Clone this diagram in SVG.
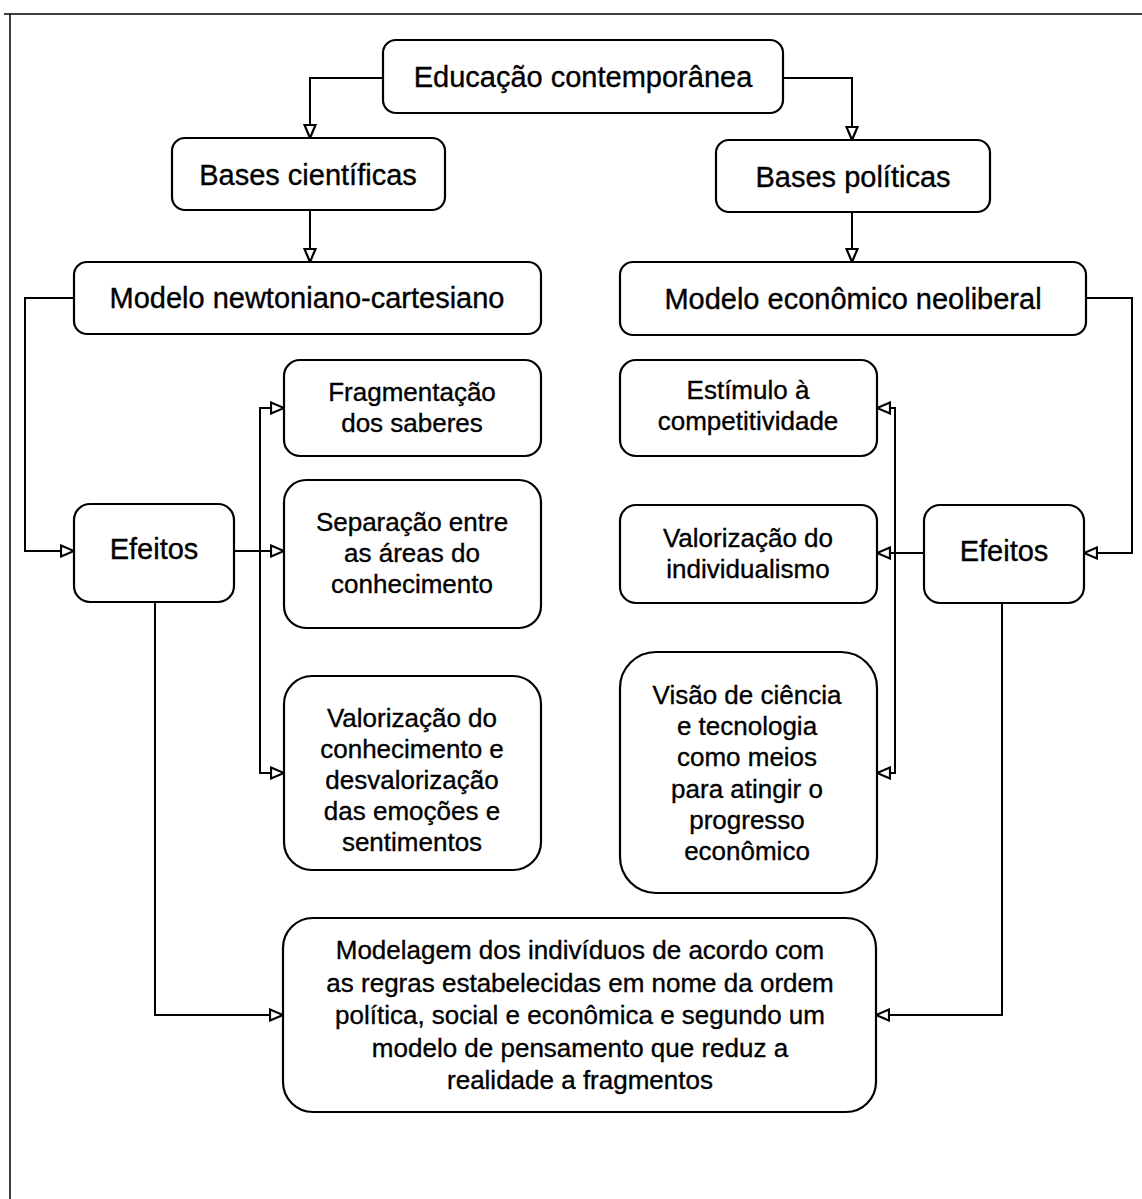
<svg xmlns="http://www.w3.org/2000/svg" width="1142" height="1199" viewBox="0 0 1142 1199">
<style>
.box{fill:#fff;stroke:#000;stroke-width:2.2}
.c{fill:none;stroke:#000;stroke-width:2}
.frame{fill:none;stroke:#000;stroke-width:1.5}
text{font-family:"Liberation Sans",Arial,sans-serif;fill:#000;text-anchor:middle;stroke:#000;stroke-width:0.35}
.l{font-size:29px}
.s{font-size:26px}
</style>
<defs>
<marker id="ah" markerUnits="userSpaceOnUse" markerWidth="16" markerHeight="14" refX="14" refY="7" orient="auto">
<path d="M1,1.5 L14,7 L1,12.5 Z" fill="#fff" stroke="#000" stroke-width="2.2"/>
</marker>
</defs>
<rect width="1142" height="1199" fill="#fff"/>
<path class="frame" d="M4,14 H1142 M10,14 V1199"/>
<g id="connectors">
<path class="c" d="M383,78 H310 V138" marker-end="url(#ah)"/>
<path class="c" d="M783,78 H852 V140" marker-end="url(#ah)"/>
<path class="c" d="M310,210 V262" marker-end="url(#ah)"/>
<path class="c" d="M852,212 V262" marker-end="url(#ah)"/>
<path class="c" d="M74,298 H25 V551 H74" marker-end="url(#ah)"/>
<path class="c" d="M1086,298 H1132 V553 H1084" marker-end="url(#ah)"/>
<path class="c" d="M234,551 H284" marker-end="url(#ah)"/>
<path class="c" d="M260,551 V408 H284" marker-end="url(#ah)"/>
<path class="c" d="M260,551 V773 H284" marker-end="url(#ah)"/>
<path class="c" d="M924,553 H877" marker-end="url(#ah)"/>
<path class="c" d="M895,553 V408 H877" marker-end="url(#ah)"/>
<path class="c" d="M895,553 V773 H877" marker-end="url(#ah)"/>
<path class="c" d="M155,602 V1015 H283" marker-end="url(#ah)"/>
<path class="c" d="M1002,603 V1015 H876" marker-end="url(#ah)"/>
</g>
<g id="n-educacao">
<rect class="box" x="383" y="40" width="400" height="73" rx="13"/>
<text class="l" x="583" y="87">Educação contemporânea</text>
</g>
<g id="n-bases-cientificas">
<rect class="box" x="172" y="138" width="273" height="72" rx="13"/>
<text class="l" x="308" y="185">Bases científicas</text>
</g>
<g id="n-bases-politicas">
<rect class="box" x="716" y="140" width="274" height="72" rx="13"/>
<text class="l" x="853" y="187">Bases políticas</text>
</g>
<g id="n-modelo-newtoniano">
<rect class="box" x="74" y="262" width="467" height="72" rx="13"/>
<text class="l" x="307" y="308">Modelo newtoniano-cartesiano</text>
</g>
<g id="n-modelo-economico">
<rect class="box" x="620" y="262" width="466" height="73" rx="13"/>
<text class="l" x="853" y="309">Modelo econômico neoliberal</text>
</g>
<g id="n-fragmentacao">
<rect class="box" x="284" y="360" width="257" height="96" rx="16"/>
<text class="s" x="412" y="401">Fragmentação</text>
<text class="s" x="412" y="432">dos saberes</text>
</g>
<g id="n-separacao">
<rect class="box" x="284" y="480" width="257" height="148" rx="22"/>
<text class="s" x="412" y="531">Separação entre</text>
<text class="s" x="412" y="562">as áreas do</text>
<text class="s" x="412" y="593">conhecimento</text>
</g>
<g id="n-efeitos-esq">
<rect class="box" x="74" y="504" width="160" height="98" rx="16"/>
<text class="l" x="154" y="559">Efeitos</text>
</g>
<g id="n-valorizacao-conhecimento">
<rect class="box" x="284" y="676" width="257" height="194" rx="28"/>
<text class="s" x="412" y="727">Valorização do</text>
<text class="s" x="412" y="758">conhecimento e</text>
<text class="s" x="412" y="789">desvalorização</text>
<text class="s" x="412" y="820">das emoções e</text>
<text class="s" x="412" y="851">sentimentos</text>
</g>
<g id="n-estimulo">
<rect class="box" x="620" y="360" width="257" height="96" rx="16"/>
<text class="s" x="748" y="399">Estímulo à</text>
<text class="s" x="748" y="430">competitividade</text>
</g>
<g id="n-individualismo">
<rect class="box" x="620" y="505" width="257" height="98" rx="16"/>
<text class="s" x="748" y="547">Valorização do</text>
<text class="s" x="748" y="578">individualismo</text>
</g>
<g id="n-efeitos-dir">
<rect class="box" x="924" y="505" width="160" height="98" rx="16"/>
<text class="l" x="1004" y="561">Efeitos</text>
</g>
<g id="n-visao">
<rect class="box" x="620" y="652" width="257" height="241" rx="36"/>
<text class="s" x="747" y="704">Visão de ciência</text>
<text class="s" x="747" y="735">e tecnologia</text>
<text class="s" x="747" y="766">como meios</text>
<text class="s" x="747" y="798">para atingir o</text>
<text class="s" x="747" y="829">progresso</text>
<text class="s" x="747" y="860">econômico</text>
</g>
<g id="n-modelagem">
<rect class="box" x="283" y="918" width="593" height="194" rx="30"/>
<text class="s" x="580" y="959">Modelagem dos indivíduos de acordo com</text>
<text class="s" x="580" y="992">as regras estabelecidas em nome da ordem</text>
<text class="s" x="580" y="1024">política, social e econômica e segundo um</text>
<text class="s" x="580" y="1057">modelo de pensamento que reduz a</text>
<text class="s" x="580" y="1089">realidade a fragmentos</text>
</g>
</svg>
